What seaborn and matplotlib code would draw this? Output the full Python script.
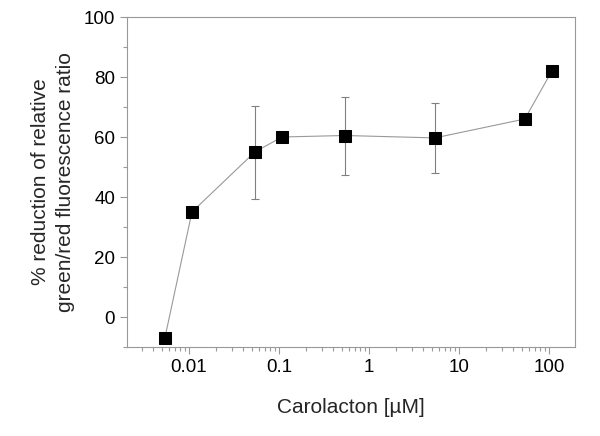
import matplotlib
matplotlib.use("Agg")
import matplotlib.pyplot as plt
import matplotlib.ticker as mticker
import seaborn as sns
import numpy as np
import pandas as pd

conc = [0.0054, 0.0108, 0.054, 0.108, 0.54, 5.4, 54, 108]
reduction = [-7, 35, 55, 60, 60.5, 59.7, 66, 82]
err_upper = [0, 0, 15.3, 0, 12.8, 11.6, 0, 0]
err_lower = [0, 0, 15.7, 0, 13.0, 11.7, 0, 0]

sns.set_theme(style="ticks")
plt.rcParams['font.family'] = ['Liberation Sans', 'DejaVu Sans']

fig = plt.figure(figsize=(6, 4.36), dpi=100)
ax = fig.add_axes([127/600, 1-347/436, (575-127)/600, (347-17)/436])

df = pd.DataFrame({"conc": conc, "reduction": reduction})
ax.errorbar(conc, reduction, yerr=[err_lower, err_upper], fmt='none',
            ecolor='#808080', elinewidth=0.8, capsize=3, capthick=0.8, zorder=2)
sns.lineplot(data=df, x="conc", y="reduction", ax=ax, color='#999999',
             linewidth=0.8, marker='s', markersize=9, markerfacecolor='black',
             markeredgecolor='black', zorder=3)

ax.set_xscale('log')
ax.set_xlim(0.00205, 195)
ax.set_ylim(-10, 100)
ax.set_yticks([0, 20, 40, 60, 80, 100])
ax.yaxis.set_minor_locator(mticker.MultipleLocator(10))
ax.set_xticks([0.01, 0.1, 1, 10, 100])
ax.set_xticklabels(['0.01', '0.1', '1', '10', '100'])
ax.xaxis.set_minor_locator(mticker.LogLocator(base=10, subs=np.arange(2, 10), numticks=20))
ax.xaxis.set_minor_formatter(mticker.NullFormatter())

for s in ax.spines.values():
    s.set_color('#999999')
    s.set_linewidth(0.8)
ax.tick_params(which='major', length=5, width=0.8, color='#999999', labelsize=13.5,
               labelcolor='black', direction='out')
ax.tick_params(which='minor', length=3, width=0.8, color='#999999', direction='out')
ax.tick_params(top=False, right=False, which='both')

ax.set_xlabel('Carolacton [\u00b5M]', fontsize=15, labelpad=16)
ax.set_ylabel('% reduction of relative\ngreen/red fluorescence ratio', fontsize=15,
              labelpad=6, linespacing=1.45)

fig.savefig('out.png', dpi=100)
